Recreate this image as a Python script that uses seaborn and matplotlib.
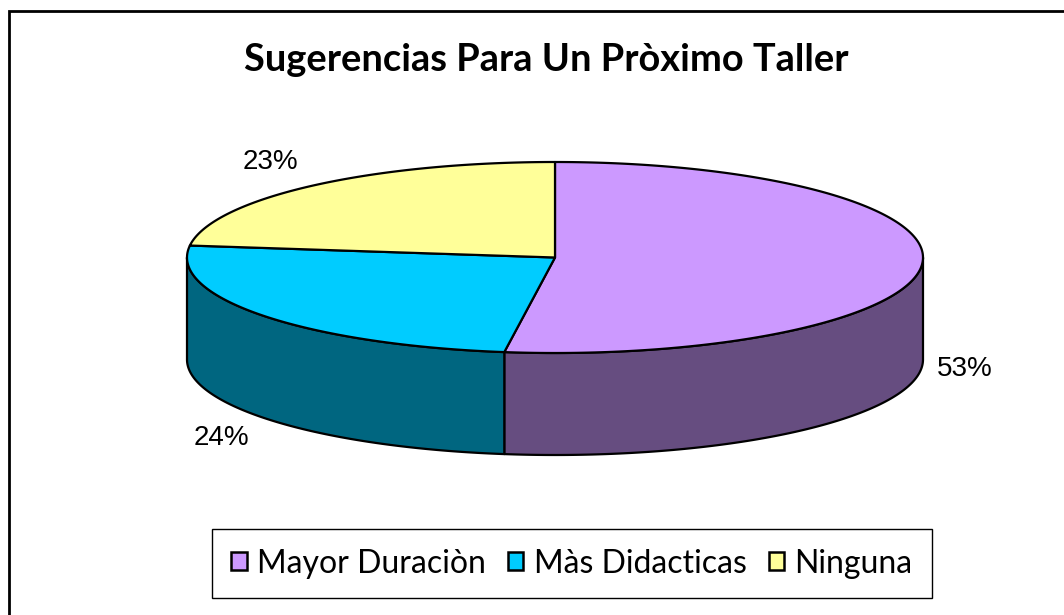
import numpy as np
import seaborn as sns
import matplotlib
matplotlib.use("Agg")
import matplotlib.pyplot as plt
from matplotlib.patches import Patch
from matplotlib.font_manager import FontProperties

categories = ["Mayor Duraciòn", "Màs Didacticas", "Ninguna"]
shares = [52.2, 24.8, 23.0]
labels = ["53%", "24%", "23%"]
top_colors = ["#CC99FF", "#00CCFF", "#FFFF99"]
side_colors = ["#664D80", "#006680", "#808050"]
title = "Sugerencias Para Un Pròximo Taller"

sns.set_theme(style="white")
plt.rcParams["font.family"] = ["Lato", "DejaVu Sans"]

fig = plt.figure(figsize=(10.64, 6.15), dpi=100, facecolor="white")
ax = fig.add_axes([0, 0, 1, 1])
ax.set_xlim(0, 1064)
ax.set_ylim(615, 0)
ax.axis("off")

cx, cy, a, b, depth = 555, 257.5, 368, 95.5, 102
edges = np.cumsum([0] + shares) / sum(shares) * 2 * np.pi


def rim(t0, t1, dy=0):
    t = np.linspace(t0, t1, 200)
    return cx + a * np.sin(t), cy - b * np.cos(t) + dy


# extruded front wall: only the part of the rim facing the viewer
for i, col in enumerate(side_colors):
    t0, t1 = max(edges[i], np.pi / 2), min(edges[i + 1], 3 * np.pi / 2)
    if t1 <= t0:
        continue
    x, y = rim(t0, t1)
    x2, y2 = rim(t1, t0, depth)
    ax.fill(np.r_[x, x2], np.r_[y, y2], facecolor=col, edgecolor="black", lw=1.6, joinstyle="round")

# top face
for i, col in enumerate(top_colors):
    x, y = rim(edges[i], edges[i + 1])
    ax.fill(np.r_[cx, x], np.r_[cy, y], facecolor=col, edgecolor="black", lw=1.6, joinstyle="round")

# chart frame (cropped at right and bottom)
ax.plot([9, 9, 1064], [615, 11, 11], color="black", lw=2, solid_joinstyle="miter")

ax.text(546.5, 60, title, fontsize=27.4, fontweight="bold", color="black", ha="center", va="center")

label_pos = [(965, 369), (221, 438), (270, 162)]
for s, (lx, ly) in zip(labels, label_pos):
    ax.text(lx, ly, s, fontsize=20, family="Liberation Sans", color="black",
            ha="center", va="center")

handles = [Patch(facecolor=c, edgecolor="black", lw=1.8) for c in top_colors]
leg = ax.legend(handles, categories, ncol=3, loc="lower left",
                bbox_to_anchor=(212 / 1064, 1 - 598 / 615, 720 / 1064, 69 / 615),
                bbox_transform=fig.transFigure, mode="expand", borderaxespad=0,
                prop=FontProperties(family="Lato", weight="normal", size=23),
                labelcolor="black", frameon=True, fancybox=False, edgecolor="black",
                framealpha=1, handlelength=0.47, handleheight=0.47, handletextpad=0.32,
                columnspacing=0.7, borderpad=0.61)
leg.get_frame().set_linewidth(1.0)

fig.savefig("out.png", dpi=100, facecolor="white")
